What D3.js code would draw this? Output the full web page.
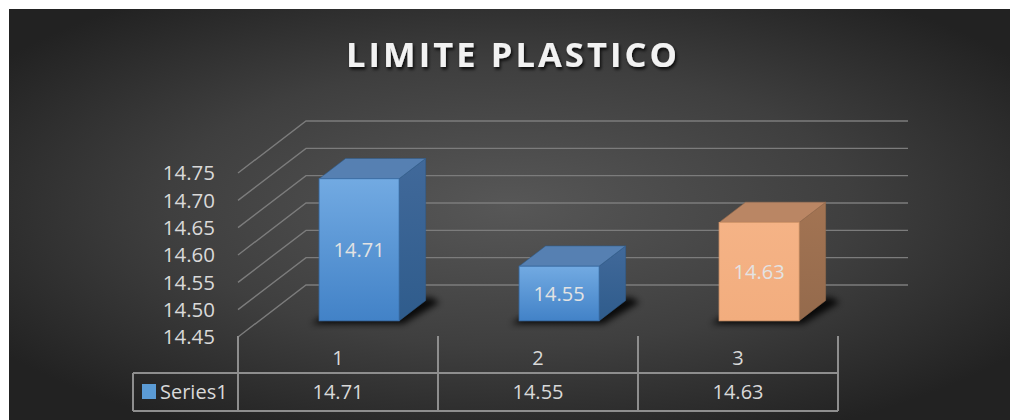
<!DOCTYPE html>
<html><head><meta charset="utf-8">
<script src="https://cdn.jsdelivr.net/npm/d3@7"></script>
<style>html,body{margin:0;padding:0;background:#fff;}svg{display:block;}</style>
</head><body>
<svg id="chart" width="1010" height="420"></svg>
<script>
const title = "LIMITE PLASTICO";
const categories = ["1", "2", "3"];
const values = [14.71, 14.55, 14.63];
const seriesName = "Series1";
const yTicks = [14.45, 14.50, 14.55, 14.60, 14.65, 14.70, 14.75];
const barColors = ["blue", "blue", "orange"];

const svg = d3.select("#chart");
const W = 1010, H = 420;
const defs = svg.append("defs");

const bg = defs.append("radialGradient").attr("id","bg").attr("cx","0.5").attr("cy","0.48").attr("r","0.62");
bg.append("stop").attr("offset","0").attr("stop-color","#575757");
bg.append("stop").attr("offset","0.55").attr("stop-color","#3f3f3f");
bg.append("stop").attr("offset","1").attr("stop-color","#222222");

const pal = {
  blue: {front:["#72aae2","#4282c7"], top:"#5680b2", side:["#41699a","#2f5c8c"], edge:"#3a6ea8"},
  orange: {front:["#f5b386","#f2ad7e"], top:"#ba8664", side:["#a37453","#946a4c"], edge:"#d89a6c"}
};
Object.entries(pal).forEach(([k,p])=>{
  const gf = defs.append("linearGradient").attr("id","front-"+k).attr("x1",0).attr("y1",0).attr("x2",0).attr("y2",1);
  gf.append("stop").attr("offset",0).attr("stop-color",p.front[0]);
  gf.append("stop").attr("offset",1).attr("stop-color",p.front[1]);
  const gs = defs.append("linearGradient").attr("id","side-"+k).attr("x1",0).attr("y1",0).attr("x2",0).attr("y2",1);
  gs.append("stop").attr("offset",0).attr("stop-color",p.side[0]);
  gs.append("stop").attr("offset",1).attr("stop-color",p.side[1]);
});
const tsh = defs.append("filter").attr("id","tshadow").attr("x","-10%").attr("y","-30%").attr("width","120%").attr("height","160%");
tsh.append("feDropShadow").attr("dx",1.5).attr("dy",2.5).attr("stdDeviation",1.6).attr("flood-color","#000").attr("flood-opacity",0.8);
const bsh = defs.append("filter").attr("id","bshadow").attr("x","-30%").attr("y","-100%").attr("width","160%").attr("height","300%");
bsh.append("feGaussianBlur").attr("stdDeviation",3);

svg.append("rect").attr("x",9).attr("y",9).attr("width",W-9).attr("height",H-9).attr("fill","url(#bg)");

// title
svg.append("text").attr("x",346).attr("y",67)
  .attr("font-family","'Open Sans', sans-serif").attr("font-weight",700).attr("font-size",34.5)
  .attr("fill","#f2f2f2").attr("textLength",331).attr("lengthAdjust","spacing")
  .attr("filter","url(#tshadow)")
  .text(title);

// scales
const y = d3.scaleLinear().domain([14.45, 14.75]).range([337, 173]);
const x = d3.scaleBand().domain(categories).range([238, 838]).paddingInner(0.6).paddingOuter(0.3);
const depthX = 68, depthY = -52;
const d0 = 0.31, d1 = 0.70;
const gridEnd = 908;

const gGrid = svg.append("g").attr("stroke","#7c7c7c").attr("stroke-width",1.4).attr("fill","none");
yTicks.forEach(t=>{
  const yf = y(t);
  gGrid.append("path").attr("d", `M${238},${yf} L${238+depthX},${yf+depthY} L${gridEnd},${yf+depthY}`);
});

svg.append("g").selectAll("text").data(yTicks).join("text")
  .attr("x",215).attr("y",d=>y(d)).attr("dy","0.36em").attr("text-anchor","end")
  .attr("font-family","'Open Sans', sans-serif").attr("font-size",20.5).attr("fill","#d9d9d9")
  .text(d=>d.toFixed(2));

const gBars = svg.append("g");
categories.forEach((c,i)=>{
  const v = values[i];
  const p = pal[barColors[i]];
  const k = barColors[i];
  const fx0 = x(c) + d0*depthX, fx1 = x(c) + x.bandwidth() + d0*depthX;
  const fyT = y(v) + d0*depthY, fyB = y(14.45) + d0*depthY;
  const ddx = (d1-d0)*depthX, ddy = (d1-d0)*depthY;
  gBars.append("path")
    .attr("d", `M${fx0-8},${fyB+3} L${fx1+4},${fyB+3} L${fx1+ddx+14},${fyB+ddy+2} L${fx1+ddx+6},${fyB+ddy-3} L${fx0+ddx},${fyB+ddy} Z`)
    .attr("fill","#000").attr("opacity",0.85).attr("filter","url(#bshadow)");
  gBars.append("path").attr("d", `M${fx1},${fyT} L${fx1+ddx},${fyT+ddy} L${fx1+ddx},${fyB+ddy} L${fx1},${fyB} Z`)
    .attr("fill",`url(#side-${k})`).attr("stroke",p.side[1]).attr("stroke-width",0.6);
  gBars.append("path").attr("d", `M${fx0},${fyT} L${fx0+ddx},${fyT+ddy} L${fx1+ddx},${fyT+ddy} L${fx1},${fyT} Z`)
    .attr("fill",p.top).attr("stroke",p.side[1]).attr("stroke-width",0.6);
  gBars.append("rect").attr("x",fx0).attr("y",fyT).attr("width",fx1-fx0).attr("height",fyB-fyT)
    .attr("fill",`url(#front-${k})`).attr("stroke",p.edge).attr("stroke-width",0.8);
  gBars.append("text").attr("x",(fx0+fx1)/2).attr("y",(fyT+fyB)/2).attr("dy","0.36em")
    .attr("text-anchor","middle").attr("font-family","'Open Sans', sans-serif").attr("font-size",20)
    .attr("fill","#e3e3e3").text(v.toFixed(2));
});

// data table
const tTop = 336, tMid = 373, tBot = 411, tLeft = 133;
const gT = svg.append("g").attr("stroke","#8e8e8e").attr("stroke-width",2).attr("fill","none");
const stepEdges = categories.map((c,i)=>238 + x.step()*(i+1));
[238].concat(stepEdges).forEach(ex=>{
  gT.append("line").attr("x1",ex).attr("x2",ex).attr("y1",tTop).attr("y2",tBot);
});
gT.append("line").attr("x1",tLeft).attr("x2",838).attr("y1",tMid).attr("y2",tMid);
gT.append("line").attr("x1",tLeft).attr("x2",838).attr("y1",tBot).attr("y2",tBot);
gT.append("line").attr("x1",tLeft).attr("x2",tLeft).attr("y1",tMid).attr("y2",tBot);

const tf = {"font-family":"'Open Sans', sans-serif","font-size":20,"fill":"#d9d9d9"};
categories.forEach((c,i)=>{
  const cx = 238 + x.step()*(i+0.5);
  const t1 = svg.append("text").attr("x",cx).attr("y",(tTop+tMid)/2+3).attr("dy","0.36em").attr("text-anchor","middle").text(c);
  const t2 = svg.append("text").attr("x",cx).attr("y",(tMid+tBot)/2).attr("dy","0.36em").attr("text-anchor","middle").text(values[i].toFixed(2));
  [t1,t2].forEach(t=>Object.entries(tf).forEach(([a,b])=>t.attr(a,b)));
});
svg.append("rect").attr("x",142).attr("y",384).attr("width",14).attr("height",15).attr("fill","#5b9bd5");
const ls = svg.append("text").attr("x",160).attr("y",392).attr("dy","0.36em").text(seriesName);
Object.entries(tf).forEach(([a,b])=>ls.attr(a,b));
</script>
</body></html>
